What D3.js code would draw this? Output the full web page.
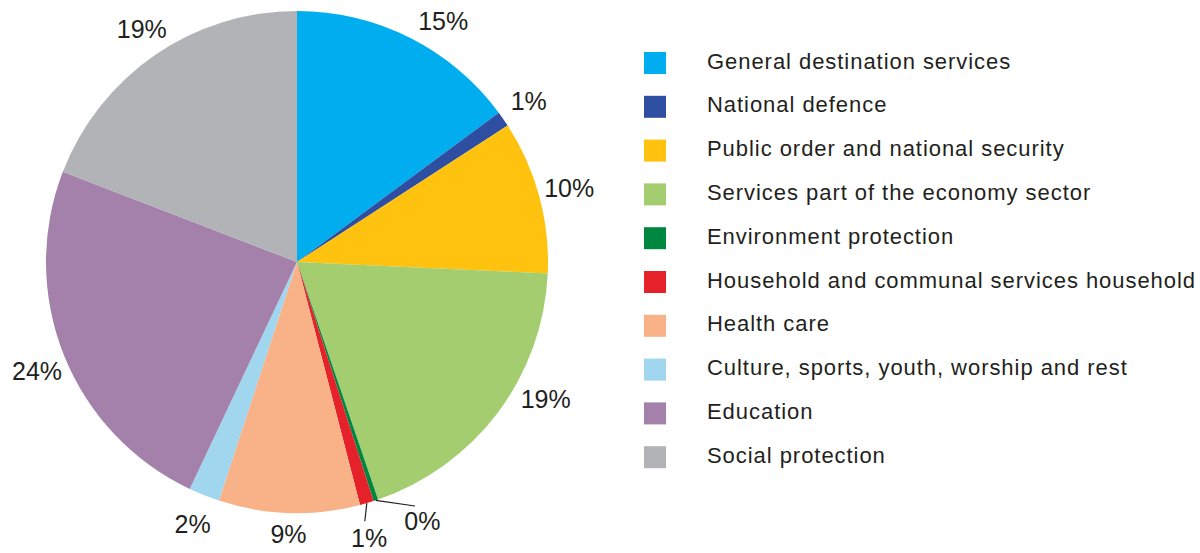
<!DOCTYPE html>
<html>
<head>
<meta charset="utf-8">
<script src="https://cdn.jsdelivr.net/npm/d3@7"></script>
<style>
  body { margin: 0; background: #fff; }
  svg { display: block; font-family: "Liberation Sans", Arial, sans-serif; }
</style>
</head>
<body>
<svg id="chart" width="1200" height="553"></svg>
<script>
const categories = [
    "General destination services",
    "National defence",
    "Public order and national security",
    "Services part of the economy sector",
    "Environment protection",
    "Household and communal services household",
    "Health care",
    "Culture, sports, youth, worship and rest",
    "Education",
    "Social protection"
]
const shares = [14.9, 1.0, 9.9, 19.1, 0.3, 0.9, 9.1, 2.0, 23.9, 19.2]
const labels = ["15%", "1%", "10%", "19%", "0%", "1%", "9%", "2%", "24%", "19%"]
const colors = ["#00aeef", "#2e4ea1", "#fec20f", "#a3cd6f", "#00873f", "#e5222a", "#f9b288", "#a0d6ee", "#a481ab", "#b2b3b6"]

const width = 1200, height = 553
const cx = 297, cy = 262, radius = 251

// layout nudges for a few labels (degrees / extra radius), like the original placement
const labelNudge = {
    0: { da: 4.5, dr: 0 },
    3: { da: -8, dr: 2 },
    4: { da: -7.5, dr: 6, leader: true },
    5: { da: 1.5, dr: 3, leader: true },
    6: { da: 0, dr: -10 },
    8: { da: -1, dr: 0 },
    9: { da: 0.8, dr: -2 }
}

const svg = d3.select("#chart")

const data = categories.map((c, i) => ({ name: c, value: shares[i], label: labels[i], color: colors[i], i: i }))

const pie = d3.pie()
    .sort(null)
    .value(d => d.value)
const arcs = pie(data)

const arc = d3.arc()
    .innerRadius(0)
    .outerRadius(radius)

const g = svg.append("g")
    .attr("transform", `translate(${cx},${cy})`)

g.selectAll("path.slice")
    .data(arcs)
    .join("path")
    .attr("class", "slice")
    .attr("d", arc)
    .attr("fill", d => d.data.color)

const polar = (a, r) => [r * Math.sin(a), -r * Math.cos(a)]

arcs.forEach(d => {
    const nudge = labelNudge[d.data.i] || { da: 0, dr: 0 }
    const mid = (d.startAngle + d.endAngle) / 2
    const a = mid + nudge.da * Math.PI / 180
    const pos = polar(a, 282 + nudge.dr)

    if (nudge.leader) {
        const p0 = polar(mid, radius)
        const p1 = polar(a, 282 + nudge.dr - 17)
        g.append("line")
            .attr("x1", p0[0]).attr("y1", p0[1])
            .attr("x2", p1[0]).attr("y2", p1[1])
            .attr("stroke", "#231f20")
            .attr("stroke-width", 1.2)
    }

    g.append("text")
        .attr("x", pos[0])
        .attr("y", pos[1])
        .attr("text-anchor", "middle")
        .attr("dominant-baseline", "central")
        .attr("font-size", 25)
        .attr("fill", "#231f20")
        .text(d.data.label)
})

// legend
const legendX = 644, legendY = 63, rowH = 43.8, box = 22

const legend = svg.append("g")
    .selectAll("g")
    .data(data)
    .join("g")
    .attr("transform", (d, i) => `translate(${legendX},${legendY + i * rowH})`)

legend.append("rect")
    .attr("x", 0)
    .attr("y", -box / 2)
    .attr("width", box)
    .attr("height", box)
    .attr("fill", d => d.color)

legend.append("text")
    .attr("x", 63)
    .attr("y", -2)
    .attr("dominant-baseline", "central")
    .attr("font-size", 22)
    .attr("letter-spacing", 0.95)
    .attr("fill", "#231f20")
    .text(d => d.name)
</script>
</body>
</html>
